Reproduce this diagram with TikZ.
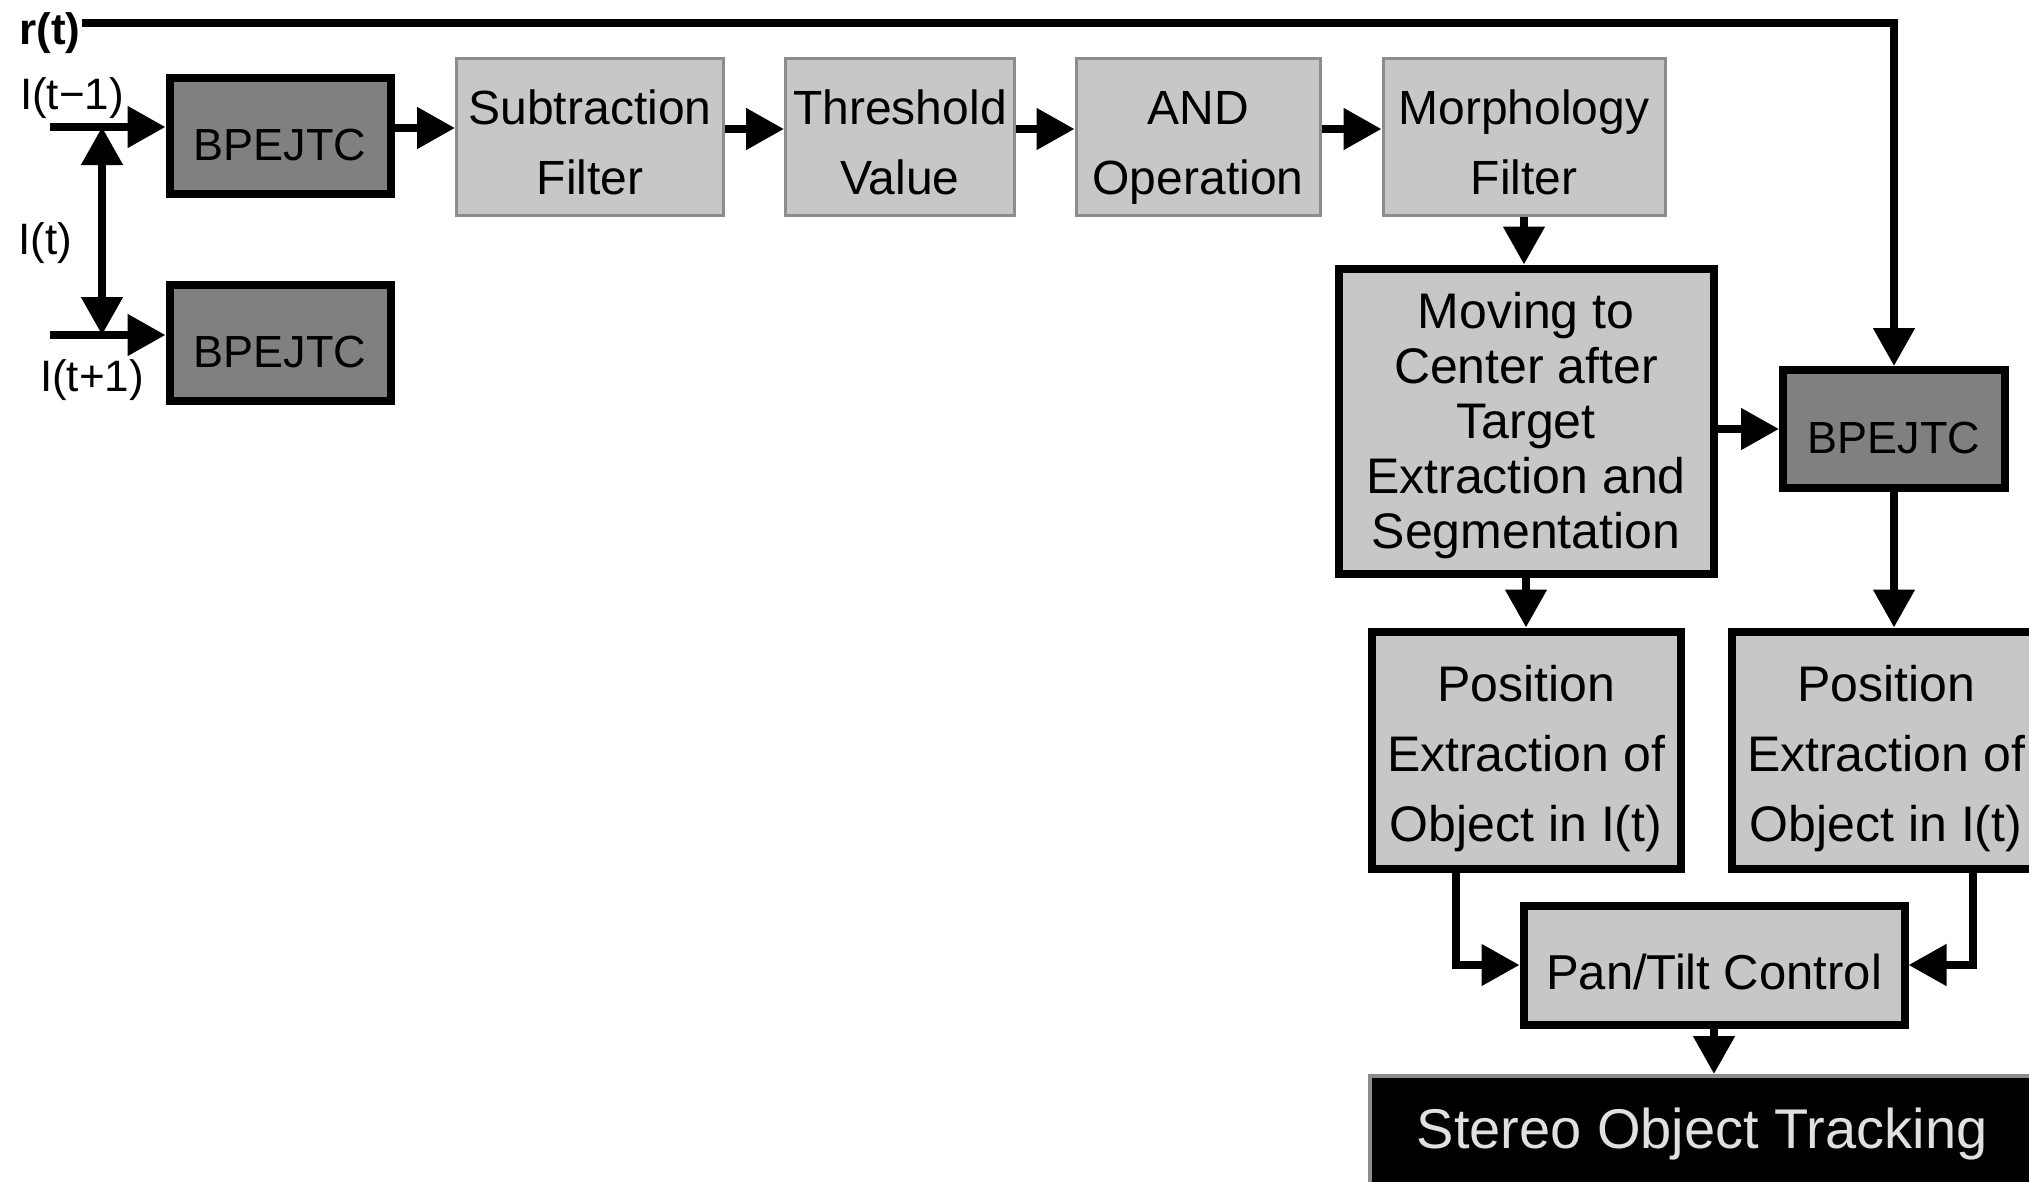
\documentclass[tikz,border=0pt]{standalone}
\usepackage{fontspec}
\setmainfont{Liberation Sans}
\usetikzlibrary{arrows.meta}
\newcommand\myfirst[2]{\rule{0pt}{#1}\smash{#2}}
\newcommand\myline[1]{\smash{#1}}
\begin{document}
\begin{tikzpicture}[x=1pt,y=-1pt,
  conn/.style={line width=8pt,-{Triangle[length=38pt,width=40pt]}},
  darkbox/.style={draw=black,line width=8pt,fill=black!50,inner sep=0pt,align=center,
     font=\fontsize{45}{55}\selectfont,text height=48pt,text depth=0pt},
  thickbox/.style={draw=black,line width=8pt,fill=black!22,inner sep=0pt,align=center,
     font=\fontsize{50}{55}\selectfont},
  thinbox/.style={draw=black!45,line width=3pt,fill=black!22,inner sep=0pt,align=center,
     font=\fontsize{48}{70}\selectfont},
  lbl/.style={inner sep=0pt,font=\fontsize{44}{50}\selectfont}
]
\useasboundingbox (0,0) rectangle (2029,1181);
\clip (0,0) rectangle (2029,1181);
\fill[white] (0,0) rectangle (2029,1181);

% labels
\node[lbl,font=\fontsize{44}{50}\selectfont\bfseries] (rtl) at (50,33) {r(t)};
\node[lbl] (it1) at (72,98) {I(t−1)};
\node[lbl] (it) at (45,243) {I(t)};
\node[lbl] (it2) at (92,380) {I(t+1)};

% boxes
\node[darkbox,minimum width=221pt,minimum height=116pt] (b1) at (280,136) {BPEJTC};
\node[darkbox,minimum width=221pt,minimum height=116pt] (b2) at (280,343) {BPEJTC};
\node[thinbox,minimum width=267pt,minimum height=157pt] (sub) at (590,137)
  {\myfirst{44pt}{Subtraction}\\\myline{Filter}};
\node[thinbox,minimum width=229pt,minimum height=157pt] (thr) at (900,137)
  {\myfirst{44pt}{Threshold}\\\myline{Value}};
\node[thinbox,minimum width=244pt,minimum height=157pt] (and) at (1198,137)
  {\myfirst{44pt}{AND}\\\myline{Operation}};
\node[thinbox,minimum width=282pt,minimum height=157pt] (mor) at (1524,137)
  {\myfirst{44pt}{Morphology}\\\myline{Filter}};
\node[thickbox,minimum width=375pt,minimum height=305pt] (mov) at (1526,421)
  {\myfirst{34pt}{Moving to}\\\myline{Center after}\\\myline{Target}\\\myline{Extraction and}\\\myline{Segmentation}};
\node[darkbox,minimum width=222pt,minimum height=118pt] (b3) at (1894,429) {BPEJTC};
\node[thickbox,minimum width=309pt,minimum height=237pt,font=\fontsize{50}{70}\selectfont] (p1) at (1526,750)
  {\myfirst{42pt}{Position}\\\myline{Extraction of}\\\myline{Object in I(t)}};
\node[thickbox,minimum width=309pt,minimum height=237pt,font=\fontsize{50}{70}\selectfont] (p2) at (1886,750)
  {\myfirst{42pt}{Position}\\\myline{Extraction of}\\\myline{Object in I(t)}};
\node[thickbox,minimum width=381pt,minimum height=119pt,font=\fontsize{49}{55}\selectfont,
  text height=48pt,text depth=0pt] (pan) at (1714,965)
  {Pan/Tilt Control};
\node[draw=black!45,line width=4pt,fill=black,inner sep=0pt,minimum width=672pt,minimum height=116pt,
  anchor=north west] (st) at (1368,1074) {};
\node[inner sep=0pt,font=\fontsize{56}{60}\selectfont,text=black!12] (stt) at (1702,1134) {Stereo Object Tracking};

% inputs
\coordinate (in1) at (50,127);
\coordinate (in2) at (50,335);
\coordinate (j1) at (102,127);
\coordinate (j2) at (102,335);
\draw[conn] (in1) -- (b1.west |- in1);
\draw[conn] (in2) -- (b2.west |- in2);
\draw[line width=8pt,{Triangle[length=38pt,width=40pt]}-{Triangle[length=38pt,width=40pt]}] (j1) -- (j2);

% pipeline
\draw[conn] ([yshift=8pt]b1.east) -- ([yshift=8pt]b1.east -| sub.west);
\draw[conn] ([yshift=8pt]sub.east) -- ([yshift=8pt]sub.east -| thr.west);
\draw[conn] ([yshift=8pt]thr.east) -- ([yshift=8pt]thr.east -| and.west);
\draw[conn] ([yshift=8pt]and.east) -- ([yshift=8pt]and.east -| mor.west);
\draw[conn] (mor.south) -- (mor.south |- mov.north);
\draw[conn] (mov.east |- b3) -- (b3.west);
\draw[conn] (mov.south) -- (mov.south |- p1.north);
\draw[conn] (b3.south) -- (b3.south |- p2.north);

% r(t)
\coordinate (rt) at (82,23);
\draw[conn] (rt) -| (b3.north);

% to pan/tilt
\draw[conn] ([xshift=-70pt]p1.south) |- (pan.west);
\draw[conn] ([xshift=87pt]p2.south) |- (pan.east);
\draw[conn] (pan.south) -- (pan.south |- st.north);
\end{tikzpicture}
\end{document}
